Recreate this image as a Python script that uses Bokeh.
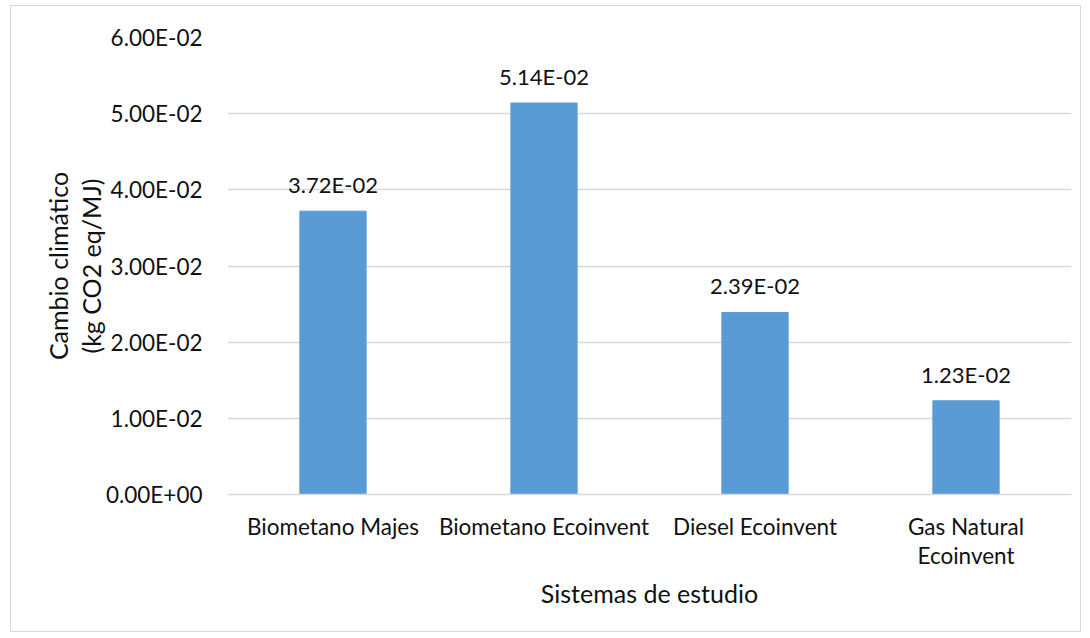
from bokeh.plotting import figure
from bokeh.models import FixedTicker, CustomJSTickFormatter, ColumnDataSource, Range1d
from bokeh.core.properties import value
from bokeh.embed import file_html
from bokeh.resources import INLINE

categories = ["Biometano Majes", "Biometano Ecoinvent", "Diesel Ecoinvent", "Gas Natural\nEcoinvent"]
values = [3.72e-2, 5.14e-2, 2.39e-2, 1.23e-2]
y_ticks = [0.0, 0.01, 0.02, 0.03, 0.04, 0.05, 0.06]
x_title = "Sistemas de estudio"
y_title = "Cambio climático\n(kg CO2 eq/MJ)"

FONT = "Lato"
TXT = "#111111"
GRID = "#d9d9d9"

labels = [f"{v:.2E}" for v in values]
src = ColumnDataSource(dict(cat=categories, val=values, lab=labels))

p = figure(x_range=categories, y_range=Range1d(0, 0.06), width=1071, height=627,
           output_backend="svg", toolbar_location=None,
           min_border_left=216, min_border_right=11, min_border_top=31, min_border_bottom=139)
p.styles = {"margin-left": "10px", "margin-top": "5px", "border": "1px solid #d9d9d9"}
p.outline_line_color = None

p.vbar(x="cat", top="val", width=0.314, source=src, color="#5b9bd5")
p.text(x="cat", y="val", text="lab", source=src, y_offset=-13,
       text_align="center", text_baseline="bottom", text_font=value(FONT),
       text_font_size="22px", text_color=TXT)

p.xgrid.grid_line_color = None
p.ygrid.grid_line_color = GRID
p.ygrid.grid_line_width = 1.3

p.yaxis.ticker = FixedTicker(ticks=y_ticks)
p.yaxis.formatter = CustomJSTickFormatter(code="""
var s = tick.toExponential(2).toUpperCase();
var parts = s.split('E');
var e = parts[1]; var sign = e[0]; var d = e.slice(1);
if (d.length < 2) { d = '0' + d; }
return parts[0] + 'E' + sign + d;
""")
p.yaxis.axis_line_color = None
p.yaxis.major_tick_line_color = None
p.yaxis.minor_tick_line_color = None
p.yaxis.major_label_standoff = 19
p.yaxis.axis_label = y_title
p.yaxis.axis_label_standoff = -3
p.yaxis.axis_label_text_font_style = "normal"

p.xaxis.axis_line_color = GRID
p.xaxis.axis_line_width = 1.3
p.xaxis.major_tick_line_color = None
p.xaxis.minor_tick_line_color = None
p.xaxis.major_label_standoff = 12
p.xaxis.axis_label = x_title
p.xaxis.axis_label_standoff = 6
p.xaxis.axis_label_text_font_style = "normal"

for ax in (p.xaxis[0], p.yaxis[0]):
    ax.major_label_text_font = FONT
    ax.major_label_text_font_size = "22.5px"
    ax.major_label_text_color = TXT
    ax.axis_label_text_font = FONT
    ax.axis_label_text_font_size = "25px"
    ax.axis_label_text_color = TXT
    ax.major_label_text_line_height = 1.1
    ax.axis_label_text_line_height = 1.1

open("out.html", "w").write(file_html(p, INLINE))
